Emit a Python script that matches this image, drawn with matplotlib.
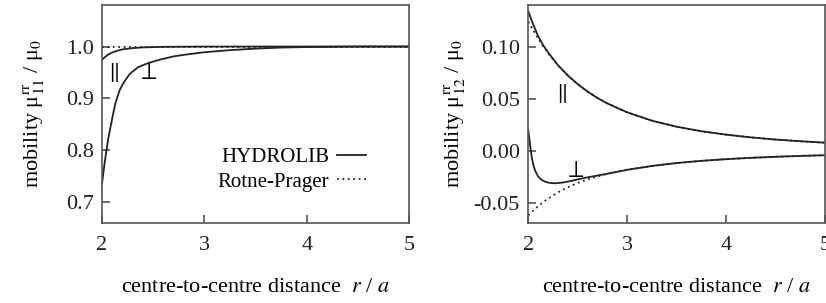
import numpy as np
from matplotlib import pyplot as plt

plt.rcParams['font.family'] = ['Liberation Serif', 'DejaVu Serif']
plt.rcParams['mathtext.fontset'] = 'stix'
plt.rcParams['font.size'] = 16

# left panel: self mobility mu_11^rr / mu_0
r11_perp = [2.0, 2.01, 2.02, 2.03, 2.045, 2.06, 2.08, 2.1, 2.13, 2.17, 2.21, 2.27,
            2.35, 2.45, 2.57, 2.7, 2.8, 3.0, 3.25, 3.5, 3.75, 4.0, 4.5, 5.0]
mu11_perp = [0.735, 0.752, 0.767, 0.782, 0.802, 0.821, 0.842, 0.862, 0.890, 0.915,
             0.930, 0.947, 0.960, 0.968, 0.975, 0.981, 0.984, 0.989, 0.993, 0.996,
             0.998, 0.999, 1.0, 1.0]
r11_par = [2.0, 2.03, 2.06, 2.1, 2.15, 2.2, 2.3, 2.4, 2.6, 3.0, 4.0, 5.0]
mu11_par = [0.9745, 0.980, 0.9845, 0.9885, 0.992, 0.9945, 0.997, 0.9983, 0.9994,
            0.9999, 1.0, 1.0]
r11_rp = [2.0, 5.0]
mu11_rp = [1.0, 1.0]

# right panel: pair mobility mu_12^rr / mu_0
r12 = [2.0, 2.05, 2.1, 2.15, 2.2, 2.3, 2.4, 2.5, 2.6, 2.7, 2.8, 3.0, 3.25, 3.5,
       3.75, 4.0, 4.25, 4.5, 4.75, 5.0]
mu12_par_rp = [0.124, 0.1158, 0.1078, 0.1005, 0.0938, 0.0821, 0.0723, 0.064, 0.0569,
               0.0508, 0.0456, 0.0371, 0.0291, 0.0233, 0.0190, 0.0157, 0.0131,
               0.0110, 0.0094, 0.0080]
mu12_perp_rp = [-0.0615, -0.0570, -0.0528, -0.0490, -0.0456, -0.0396, -0.0347,
                -0.0306, -0.0272, -0.0243, -0.0219, -0.0180, -0.0143, -0.0115,
                -0.0094, -0.0078, -0.0065, -0.0055, -0.0047, -0.0040]
r12_par = [2.0, 2.03, 2.06, 2.1, 2.15, 2.2, 2.3, 2.4, 2.5, 2.6, 2.7, 2.8, 3.0, 3.25,
           3.5, 3.75, 4.0, 4.25, 4.5, 4.75, 5.0]
mu12_par = [0.134, 0.126, 0.119, 0.110, 0.1015, 0.0945, 0.0823, 0.0724, 0.0641,
            0.0569, 0.0508, 0.0456, 0.0371, 0.0291, 0.0233, 0.0190, 0.0157, 0.0131,
            0.0110, 0.0094, 0.0080]
r12_perp = [2.0, 2.01, 2.02, 2.035, 2.05, 2.07, 2.1, 2.14, 2.18, 2.23, 2.28, 2.35,
            2.42, 2.5, 2.6, 2.7, 2.8, 3.0, 3.25, 3.5, 3.75, 4.0, 4.25, 4.5, 4.75, 5.0]
mu12_perp = [0.020, 0.012, 0.004, -0.006, -0.013, -0.019, -0.0245, -0.0280, -0.0298,
             -0.0307, -0.0309, -0.0302, -0.0289, -0.0272, -0.0252, -0.0235, -0.0217,
             -0.0180, -0.0143, -0.0115, -0.0094, -0.0078, -0.0065, -0.0055, -0.0047,
             -0.0040]

lw = 1.3
dots = (0, (1, 2))
col = '#222222'
fig = plt.figure(figsize=(8.26, 3.03), dpi=100)
ax1 = fig.add_axes([0.1235, 0.264, 0.3717, 0.7195])
ax2 = fig.add_axes([0.6396, 0.264, 0.3592, 0.7195])

ax1.plot(r11_perp, mu11_perp, color=col, lw=lw, label='HYDROLIB')
ax1.plot(r11_par, mu11_par, color=col, lw=lw)
ax1.plot(r11_rp, mu11_rp, color=col, lw=lw, ls=dots, label='Rotne-Prager')
ax1.text(2.11, 0.95, r'$\Vert$', ha='center', va='center', fontsize=16)
ax1.text(2.445, 0.948, r'$\perp$', ha='center', va='center', fontsize=17)
ax1.set_ylim(0.66, 1.08)
ax1.set_yticks([0.7, 0.8, 0.9, 1.0])
ax1.set_yticklabels(['0.7', '0.8', '0.9', '1.0'])
ax1.set_ylabel('mobility μ$^{\\mathrm{rr}}_{11}$ / μ$_0$', labelpad=14)
ax1.legend(loc='lower right', bbox_to_anchor=(0.886, 0.105), borderaxespad=0,
           frameon=False, markerfirst=False, fontsize=15, handlelength=1.4,
           handletextpad=0.35, labelspacing=0.25)

ax2.plot(r12, mu12_par_rp, color=col, lw=lw, ls=dots)
ax2.plot(r12, mu12_perp_rp, color=col, lw=lw, ls=dots)
ax2.plot(r12_par, mu12_par, color=col, lw=lw)
ax2.plot(r12_perp, mu12_perp, color=col, lw=lw)
ax2.text(2.33, 0.0553, r'$\Vert$', ha='center', va='center', fontsize=16)
ax2.text(2.465, -0.0195, r'$\perp$', ha='center', va='center', fontsize=17)
ax2.set_ylim(-0.069, 0.14)
ax2.set_yticks([-0.05, 0.0, 0.05, 0.10])
ax2.set_yticklabels(['-0.05', '0.00', '0.05', '0.10'])
ax2.set_ylabel('mobility μ$^{\\mathrm{rr}}_{12}$ / μ$_0$', labelpad=5)

for ax in (ax1, ax2):
    ax.set_xlim(2, 5)
    ax.set_xticks([2, 3, 4, 5])
    ax.set_xlabel('centre-to-centre distance  $r$ / $a$', labelpad=17)
    ax.tick_params(direction='in', length=6, width=1.1, color='#444444',
                   top=False, right=False, labelcolor='#222222')
    ax.tick_params(axis='y', pad=6)
    ax.tick_params(axis='x', pad=9)
    for s in ax.spines.values():
        s.set_linewidth(1.2)
        s.set_color('#555555')

plt.savefig('out.png')
